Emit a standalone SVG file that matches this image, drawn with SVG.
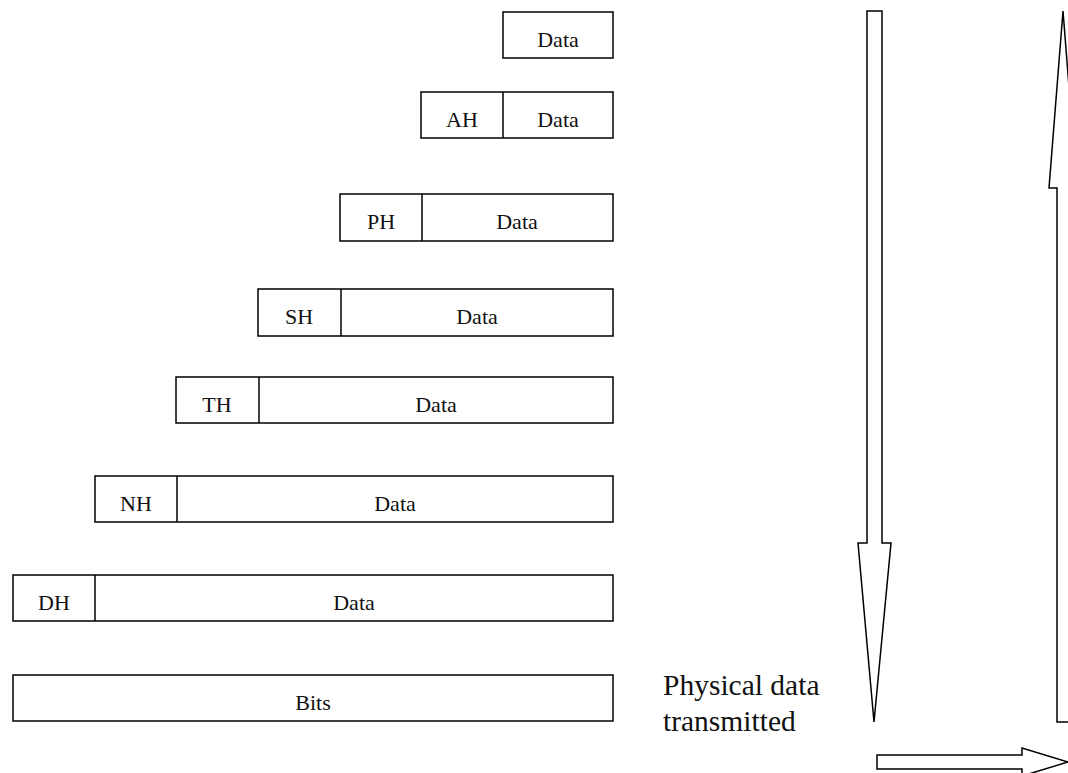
<svg xmlns="http://www.w3.org/2000/svg" width="1068" height="773" viewBox="0 0 1068 773">
<style>
.box{fill:#fff;stroke:#000;stroke-width:1.5}
.div{stroke:#000;stroke-width:1.5}
.lbl{font-family:"Liberation Serif",serif;font-size:22px;fill:#111;text-anchor:middle}
.big{font-family:"Liberation Serif",serif;font-size:29.5px;fill:#111}
.arr{fill:#fff;stroke:#000;stroke-width:1.5;stroke-linejoin:miter}
</style>
<rect width="1068" height="773" fill="#fff"/>
<g id="row-app">
<rect class="box" x="503" y="12" width="110" height="46"/>
<text class="lbl" x="558" y="47">Data</text>
</g>
<g id="row-ah">
<rect class="box" x="421" y="92" width="192" height="46"/>
<line class="div" x1="503" y1="92" x2="503" y2="138"/>
<text class="lbl" x="462" y="127">AH</text>
<text class="lbl" x="558" y="127">Data</text>
</g>
<g id="row-ph">
<rect class="box" x="340" y="194" width="273" height="47"/>
<line class="div" x1="422" y1="194" x2="422" y2="241"/>
<text class="lbl" x="381" y="229">PH</text>
<text class="lbl" x="517" y="229">Data</text>
</g>
<g id="row-sh">
<rect class="box" x="258" y="289" width="355" height="47"/>
<line class="div" x1="341" y1="289" x2="341" y2="336"/>
<text class="lbl" x="299" y="324">SH</text>
<text class="lbl" x="477" y="324">Data</text>
</g>
<g id="row-th">
<rect class="box" x="176" y="377" width="437" height="46"/>
<line class="div" x1="259" y1="377" x2="259" y2="423"/>
<text class="lbl" x="217" y="412">TH</text>
<text class="lbl" x="436" y="412">Data</text>
</g>
<g id="row-nh">
<rect class="box" x="95" y="476" width="518" height="46"/>
<line class="div" x1="177" y1="476" x2="177" y2="522"/>
<text class="lbl" x="136" y="511">NH</text>
<text class="lbl" x="395" y="511">Data</text>
</g>
<g id="row-dh">
<rect class="box" x="13" y="575" width="600" height="46"/>
<line class="div" x1="95" y1="575" x2="95" y2="621"/>
<text class="lbl" x="54" y="610">DH</text>
<text class="lbl" x="354" y="610">Data</text>
</g>
<g id="row-bits">
<rect class="box" x="13" y="675" width="600" height="46"/>
<text class="lbl" x="313" y="710">Bits</text>
</g>
<g id="label-physical">
<text class="big" x="663" y="695">Physical data</text>
<text class="big" x="663" y="731">transmitted</text>
</g>
<g id="connectors">
<polygon class="arr" points="867,11 882,11 882,543 891,543 874,722 858,543 867,543"/>
<polygon class="arr" points="1063,11 1077,188 1073,188 1073,722 1057,722 1057,188 1049,188"/>
<polygon class="arr" points="877,755 1022,755 1022,748 1068,762 1022,776 1022,769 877,769"/>
</g>
</svg>
